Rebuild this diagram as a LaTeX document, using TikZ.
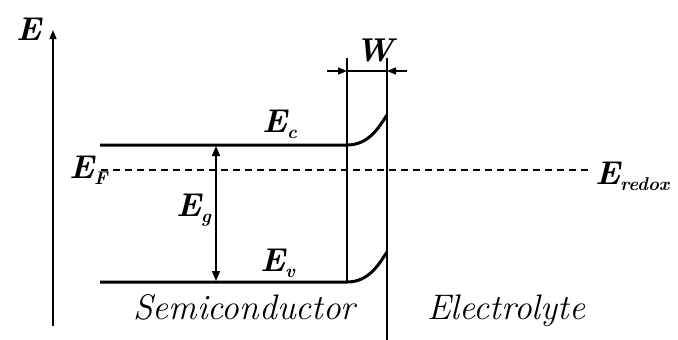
\documentclass[tikz,border=0pt]{standalone}
\usepackage{fontspec}
\usetikzlibrary{arrows.meta, positioning, calc}
\newcommand{\lvl}[2]{E\raisebox{-6pt}{\fontsize{18.5}{18.5}\selectfont #2}}

\begin{document}
\begin{tikzpicture}[
    x=1pt, y=-1pt,
    band/.style={line width=3pt},
    wall/.style={line width=1.4pt},
    fermi/.style={line width=1.4pt, dash pattern=on 7pt off 5pt},
    tip/.style={{Triangle[length=10pt,width=8pt]}-{Triangle[length=10pt,width=8pt]}},
    ptr/.style={-{Triangle[length=9pt,width=7pt]}, line width=1.4pt},
    lbl/.style={inner sep=0pt, anchor=base west, font=\fontsize{33}{33}\selectfont\bfseries\itshape},
    side/.style={inner sep=0pt, anchor=base west, font=\fontsize{35.5}{35.5}\selectfont\itshape}
]
\useasboundingbox (0,0) rectangle (678,340);
\coordinate (axb) at (53,326);
\coordinate (axt) at (53,30);
\coordinate (c0) at (100,145);
\coordinate (c1) at (347,145);
\coordinate (c2) at (387,115);
\coordinate (v0) at (100,282);
\coordinate (v1) at (347,282);
\coordinate (v2) at (387,252);
\coordinate (f0) at (101,170);
\coordinate (f1) at (592,170);
\coordinate (lt) at (347,58);
\coordinate (rt) at (387,58);
\coordinate (rb) at (387,340);
\coordinate (wl) at (327,71);
\coordinate (wr) at (407,71);
\coordinate (dl) at (347,71);
\coordinate (dr) at (387,71);
\coordinate (gt) at (216,146);
\coordinate (gb) at (216,281);
\node[lbl] (ax) at (16,40) {E};
\node[lbl] (w) at (355,61) {W};
\node[lbl] (ec) at (262,132) {\lvl{E}{c}};
\node[lbl] (ev) at (260,271) {\lvl{E}{v}};
\node[lbl] (eg) at (176,216) {\lvl{E}{g}};
\node[lbl] (ef) at (69,178) {\lvl{E}{F}};
\node[lbl] (er) at (595,184) {\lvl{E}{redox}};
\node[side] (sc) at (133,319) {Semiconductor};
\node[side] (el) at (427,319) {Electrolyte};
\draw[ptr] (axb) -- (axt);
\draw[band] (c0) -- (c1) .. controls ($(c1)+(22,0)$) and ($(c2)+(-8,12)$) .. (c2);
\draw[band] (v0) -- (v1) .. controls ($(v1)+(22,0)$) and ($(v2)+(-8,12)$) .. (v2);
\draw[fermi] (f0) -- (f1);
\draw[wall] (lt) -- (v1);
\draw[wall] (rt) -- (rb);
\draw[ptr] (wl) -- (dl);
\draw[ptr] (wr) -- (dr);
\draw[wall] (dl) -- (dr);
\draw[wall, tip] (gt) -- (gb);
\end{tikzpicture}
\end{document}
